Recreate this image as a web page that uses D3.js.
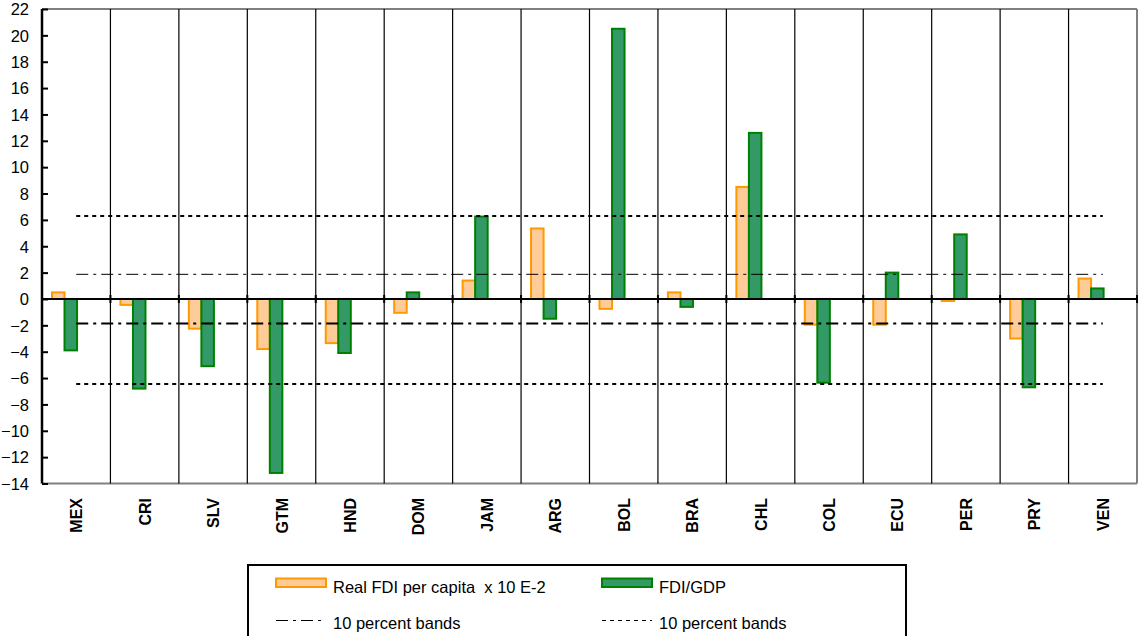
<!DOCTYPE html>
<html>
<head>
<meta charset="utf-8">
<script src="https://cdn.jsdelivr.net/npm/d3@7/dist/d3.min.js"></script>
<style>
  html, body { margin: 0; padding: 0; background: #fff; }
  svg { display: block; font-family: "Liberation Sans", Arial, sans-serif; }
</style>
</head>
<body>
<svg id="chart" width="1138" height="636"></svg>
<script>
// Countries along the x axis
const countries = ["MEX","CRI","SLV","GTM","HND","DOM","JAM","ARG","BOL","BRA","CHL","COL","ECU","PER","PRY","VEN"];

// Real FDI per capita (x 10 E-2)
const fdiPerCapita = [0.5, -0.45, -2.25, -3.8, -3.35, -1.05, 1.4, 5.35, -0.75, 0.5, 8.5, -1.95, -1.95, -0.15, -3.0, 1.55];

// FDI / GDP
const fdiGdp = [-3.9, -6.8, -5.1, -13.2, -4.1, 0.5, 6.25, -1.5, 20.5, -0.6, 12.6, -6.35, 2.0, 4.9, -6.7, 0.8];

// 10 percent bands
const bandDashDot = [1.87, -1.87];
const bandDotted = [6.3, -6.45];

// Axis ticks
const yTicks = [-14,-12,-10,-8,-6,-4,-2,0,2,4,6,8,10,12,14,16,18,20,22];

const seriesNames = ["Real FDI per capita  x 10 E-2", "FDI/GDP"];
const bandNames = ["10 percent bands", "10 percent bands"];

const svg = d3.select("#chart");
const plotL = 42, plotR = 1137, plotT = 9, plotB = 483.5;

const x = d3.scaleBand().domain(countries).range([plotL, plotR]).padding(0);
const bw = x.bandwidth();
const inner = d3.scaleBand().domain(["pc","gdp"]).range([bw * 0.146, bw * 0.512]).padding(0);
const y = d3.scaleLinear().domain([-14, 22]).range([plotB, plotT]);

const styles = {
  pc:  { fill: "#FFCC99", stroke: "#FF9900" },
  gdp: { fill: "#339966", stroke: "#008000" }
};

// Plot frame (grey top, right and bottom edges)
const frame = svg.append("g");
frame.append("line").attr("x1", plotL).attr("x2", plotR).attr("y1", y(22)).attr("y2", y(22))
  .attr("stroke", "#808080").attr("stroke-width", 2);
frame.append("line").attr("x1", plotL).attr("x2", plotR).attr("y1", y(-14)).attr("y2", y(-14))
  .attr("stroke", "#808080").attr("stroke-width", 2);
frame.append("line").attr("x1", plotR).attr("x2", plotR).attr("y1", y(22)).attr("y2", y(-14))
  .attr("stroke", "#808080").attr("stroke-width", 2);

// Vertical separators between countries
const bounds = countries.slice(1).map(c => x(c));
svg.append("g").selectAll("line").data(bounds).join("line")
  .attr("x1", d => d).attr("x2", d => d)
  .attr("y1", y(22)).attr("y2", y(-14))
  .attr("stroke", "#000").attr("stroke-width", 1.2);

// Bars
const rows = countries.map((c, i) => ({ c, pc: fdiPerCapita[i], gdp: fdiGdp[i] }));
["pc", "gdp"].forEach(key => {
  svg.append("g").selectAll("rect").data(rows).join("rect")
    .attr("x", d => x(d.c) + inner(key))
    .attr("width", inner.bandwidth())
    .attr("y", d => y(Math.max(0, d[key])))
    .attr("height", d => Math.abs(y(d[key]) - y(0)))
    .attr("fill", styles[key].fill)
    .attr("stroke", styles[key].stroke)
    .attr("stroke-width", 2);
});

// Band lines spanning first to last country centre
const cx = c => x(c) + bw / 2;
const first = countries[0], last = countries[countries.length - 1];
const bandLine = (v, dash, w) => svg.append("line")
  .attr("x1", cx(first)).attr("x2", cx(last))
  .attr("y1", y(v)).attr("y2", y(v))
  .attr("stroke", "#000").attr("stroke-width", w)
  .attr("stroke-dasharray", dash);
bandLine(bandDashDot[0], "12,5,3,5", 1);
bandLine(bandDashDot[1], "12,5,3,5", 2);
bandLine(bandDotted[0], "4,4", 2);
bandLine(bandDotted[1], "4,4", 2);

// Zero line with category ticks
const xAxis = svg.append("g");
xAxis.append("line").attr("x1", plotL).attr("x2", plotR).attr("y1", y(0)).attr("y2", y(0))
  .attr("stroke", "#000").attr("stroke-width", 2);
xAxis.selectAll(".tk").data(bounds.concat([plotR])).join("line")
  .attr("class", "tk")
  .attr("x1", d => d).attr("x2", d => d)
  .attr("y1", y(0) - 4).attr("y2", y(0) + 4)
  .attr("stroke", "#000").attr("stroke-width", 2);

// Category labels, rotated
svg.append("g").selectAll("text").data(countries).join("text")
  .attr("transform", d => `translate(${cx(d) + 6},498) rotate(-90)`)
  .attr("text-anchor", "end")
  .attr("font-size", 16).attr("font-weight", "bold")
  .attr("fill", "#000")
  .text(d => d);

// Y axis
const yAxis = svg.append("g").attr("transform", `translate(${plotL},0)`)
  .call(d3.axisRight(y).tickValues(yTicks).tickSize(6).tickFormat(d3.format("d")));
yAxis.select(".domain").attr("stroke", "#000").attr("stroke-width", 2.5)
  .attr("d", `M0,${y(22)}V${y(-14)}`);
yAxis.selectAll(".tick line").attr("stroke", "#000").attr("stroke-width", 2);
yAxis.selectAll(".tick text")
  .attr("x", -13).attr("text-anchor", "end")
  .attr("font-size", 16.5).attr("font-family", "Liberation Sans, Arial, sans-serif")
  .attr("fill", "#000").attr("dy", "0.35em");

// Legend
const lg = svg.append("g");
lg.append("rect").attr("x", 248).attr("y", 565).attr("width", 658).attr("height", 90)
  .attr("fill", "#fff").attr("stroke", "#000").attr("stroke-width", 2);
const colX = [276, 602];
["pc", "gdp"].forEach((key, i) => {
  lg.append("rect").attr("x", colX[i]).attr("y", 578.5).attr("width", 50).attr("height", 8.5)
    .attr("fill", styles[key].fill).attr("stroke", styles[key].stroke).attr("stroke-width", 2);
  lg.append("text").attr("x", colX[i] + 57).attr("y", 593)
    .attr("font-size", 16.5).attr("fill", "#000")
    .style("white-space", "pre")
    .text(seriesNames[i]);
});
const legendDash = ["12,5,3,5", "4,4"];
bandNames.forEach((name, i) => {
  lg.append("line").attr("x1", colX[i]).attr("x2", colX[i] + 50)
    .attr("y1", 620.5).attr("y2", 620.5)
    .attr("stroke", "#000").attr("stroke-width", 1)
    .attr("stroke-dasharray", legendDash[i]);
  lg.append("text").attr("x", colX[i] + 57).attr("y", 629)
    .attr("font-size", 16.5).attr("fill", "#000")
    .text(name);
});
</script>
</body>
</html>
